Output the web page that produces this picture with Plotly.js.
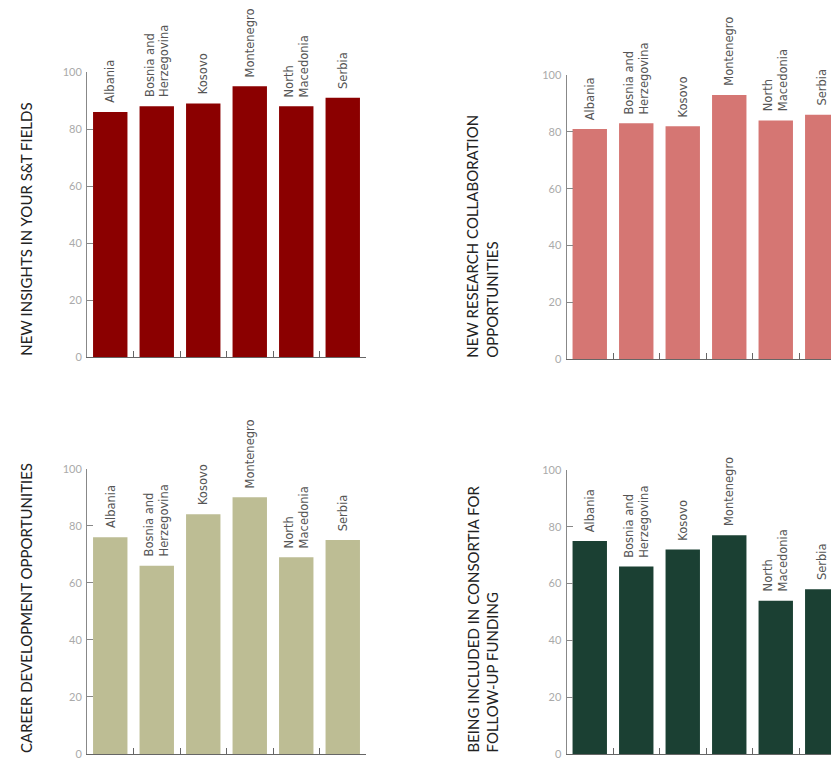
<!DOCTYPE html>
<html>
<head>
<meta charset="utf-8">
<script src="https://cdn.plot.ly/plotly-3.0.1.min.js"></script>
<style>
html,body{margin:0;padding:0;overflow:hidden;background:#fff;}
#chart{width:870px;height:800px;}
</style>
</head>
<body>
<div id="chart"></div>
<script>
// ---- data ----
const countries = ["Albania", "Bosnia and Herzegovina", "Kosovo", "Montenegro", "North Macedonia", "Serbia"];
const countryLabels = ["Albania", "Bosnia and<br>Herzegovina", "Kosovo", "Montenegro", "North<br>Macedonia", "Serbia"];
const newInsights = [86, 88, 89, 95, 88, 91];
const newCollaboration = [81, 83, 82, 93, 84, 86];
const careerDevelopment = [76, 66, 84, 90, 69, 75];
const consortiaFunding = [75, 66, 72, 77, 54, 58];
const panelTitles = [
  "NEW INSIGHTS IN YOUR S&T FIELDS",
  "NEW RESEARCH COLLABORATION<br>OPPORTUNITIES",
  "CAREER DEVELOPMENT OPPORTUNITIES",
  "BEING INCLUDED IN CONSORTIA FOR<br>FOLLOW-UP FUNDING"
];
const yTickVals = [0, 20, 40, 60, 80, 100];

// ---- layout geometry (pixels in an 870x800 figure) ----
const W = 870, H = 800;
const panels = [
  {values: newInsights, color: "#8b0000", x0: 87, x1: 366, yTop: 72, yBot: 357.3, titleX: 26},
  {values: newCollaboration, color: "#d57673", x0: 566.5, x1: 845.5, yTop: 75, yBot: 359.3, titleX: 482},
  {values: careerDevelopment, color: "#bdbd94", x0: 87, x1: 366, yTop: 468.7, yBot: 754, titleX: 26},
  {values: consortiaFunding, color: "#1b4033", x0: 566.5, x1: 845.5, yTop: 470, yBot: 754, titleX: 482}
];

const tickFont = {family: "Lato, 'Liberation Sans Narrow', sans-serif", size: 11, color: "#aaaaaa"};
const labelFont = {family: "'DejaVu Sans', Verdana, sans-serif", size: 11.5, color: "#555555"};
const titleFont = {family: "Lato, 'Open Sans', sans-serif", size: 15, color: "#222222"};

const traces = [];
const layout = {
  width: W, height: H,
  margin: {l: 0, r: 0, t: 0, b: 0},
  paper_bgcolor: "#ffffff",
  plot_bgcolor: "#ffffff",
  showlegend: false,
  annotations: []
};

panels.forEach((p, i) => {
  const n = i + 1;
  const xa = n === 1 ? "x" : "x" + n;
  const ya = n === 1 ? "y" : "y" + n;
  traces.push({
    type: "bar",
    x: countries,
    y: p.values,
    xaxis: xa, yaxis: ya,
    width: 0.74,
    marker: {color: p.color, line: {width: 0}},
    hoverinfo: "x+y"
  });
  layout[n === 1 ? "xaxis" : "xaxis" + n] = {
    domain: [p.x0 / W, p.x1 / W],
    anchor: ya,
    type: "category",
    range: [-0.5, 5.5],
    showline: true, linecolor: "#666666", linewidth: 1,
    ticks: "inside", ticklen: 6, tickcolor: "#666666", tickwidth: 1,
    tickson: "boundaries",
    showticklabels: false,
    showgrid: false, zeroline: false, fixedrange: true
  };
  layout[n === 1 ? "yaxis" : "yaxis" + n] = {
    domain: [(H - p.yBot) / H, (H - p.yTop) / H],
    anchor: xa,
    range: [0, 100],
    tickvals: yTickVals,
    ticktext: yTickVals.map(String),
    showline: true, linecolor: "#888888", linewidth: 1,
    ticks: "inside", ticklen: 6, tickcolor: "#888888", tickwidth: 1,
    tickfont: tickFont,
    ticklabelstandoff: 2,
    showgrid: false, zeroline: false, fixedrange: true
  };
  // panel title (rotated, bottom aligned)
  layout.annotations.push({
    xref: "paper", yref: "paper",
    x: p.titleX / W, y: (H - p.yBot) / H,
    xanchor: "center", yanchor: "bottom",
    text: panelTitles[i],
    textangle: -90,
    align: "left",
    showarrow: false,
    font: titleFont,
    borderpad: 0
  });
  // country labels above bars
  countries.forEach((c, k) => {
    layout.annotations.push({
      xref: xa, yref: ya,
      x: c, y: p.values[k],
      xanchor: "center", yanchor: "bottom",
      yshift: 8,
      text: countryLabels[k],
      textangle: -90,
      align: "left",
      showarrow: false,
      font: labelFont,
      borderpad: 0
    });
  });
});

Plotly.newPlot("chart", traces, layout, {displayModeBar: false, staticPlot: true});
</script>
</body>
</html>
